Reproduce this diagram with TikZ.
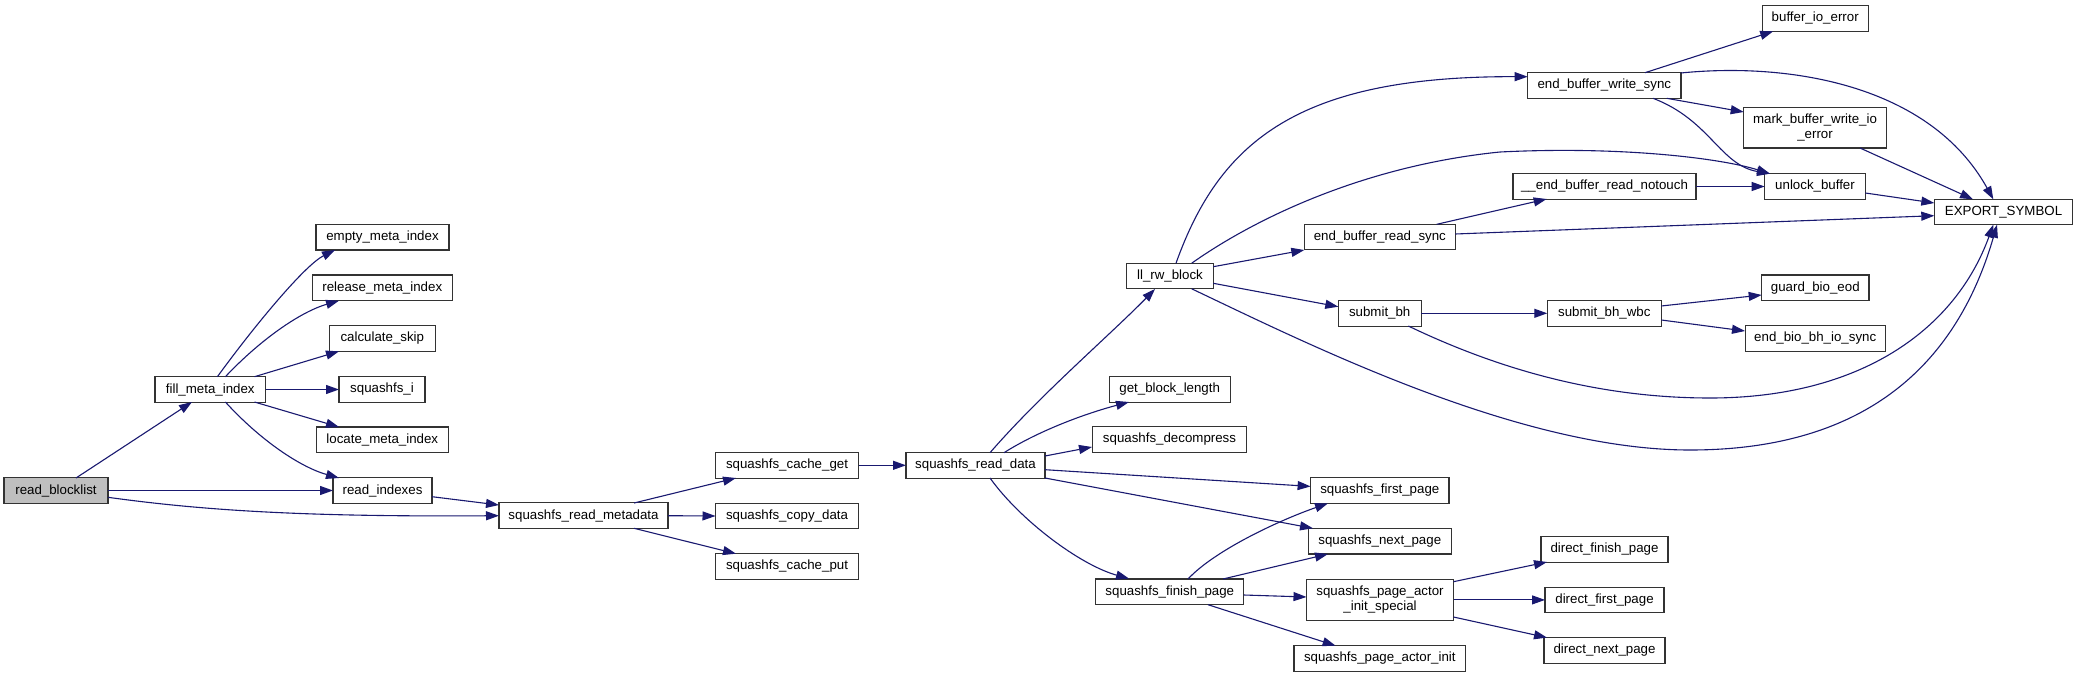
\documentclass[tikz,border=0pt]{standalone}
\usepackage{fontspec}
\setmainfont{Liberation Sans}
\usetikzlibrary{arrows.meta,calc}
\definecolor{edgecol}{HTML}{191970}
\definecolor{rootfill}{HTML}{BFBFBF}
\definecolor{boxline}{HTML}{333333}
\begin{document}
\begin{tikzpicture}[x=1pt,y=-1pt,
  fn/.style={draw=boxline, line width=1.1pt, fill=white, minimum height=25.6pt,
    inner sep=0pt, outer sep=0pt, font=\fontsize{13.3}{15.3}\selectfont, align=center},
  fntwo/.style={fn, minimum height=40.3pt},
  call/.style={draw=edgecol, line width=1.1pt, -{Triangle[length=13pt,width=9pt]}}]
\fill[white] (0,0) rectangle (2079,677);
\useasboundingbox (0,0) rectangle (2079,677);

% column 1-2
\node[fn, fill=rootfill, minimum width=104pt] (rb) at (56,490.5) {read\_blocklist};
\node[fn, minimum width=110.6pt] (fmi) at (210.3,389.5) {fill\_meta\_index};
% column 3
\node[fn, minimum width=133pt] (emi) at (382.5,237.2) {empty\_meta\_index};
\node[fn, minimum width=139.5pt] (rmi) at (382.3,287.8) {release\_meta\_index};
\node[fn, minimum width=105.5pt] (cs) at (382.3,338.5) {calculate\_skip};
\node[fn, minimum width=86pt] (si) at (382,389.5) {squashfs\_i};
\node[fn, minimum width=131.5pt] (lmi) at (382.3,439.8) {locate\_meta\_index};
\node[fn, minimum width=99pt] (ri) at (382.5,490.5) {read\_indexes};
% column 4-5
\node[fn, minimum width=169pt] (srm) at (583.5,515.7) {squashfs\_read\_metadata};
\node[fn, minimum width=143pt] (scg) at (787,465.3) {squashfs\_cache\_get};
\node[fn, minimum width=143pt] (scd) at (787,516) {squashfs\_copy\_data};
\node[fn, minimum width=143pt] (scp) at (787,566.5) {squashfs\_cache\_put};
% column 6
\node[fn, minimum width=139pt] (srd) at (975.5,465.3) {squashfs\_read\_data};
% column 7
\node[fn, minimum width=86.6pt] (llrw) at (1170,276) {ll\_rw\_block};
\node[fn, minimum width=120.7pt] (gbl) at (1169.7,389.3) {get\_block\_length};
\node[fn, minimum width=154pt] (sdc) at (1169.5,439.5) {squashfs\_decompress};
\node[fn, minimum width=148pt] (sfp) at (1169.8,591.8) {squashfs\_finish\_page};
% column 8
\node[fn, minimum width=151pt] (ebrs) at (1379.8,237.1) {end\_buffer\_read\_sync};
\node[fn, minimum width=82.7pt] (sbh) at (1379.7,313.3) {submit\_bh};
\node[fn, minimum width=138.3pt] (sfirst) at (1379.8,490.4) {squashfs\_first\_page};
\node[fn, minimum width=142.5pt] (snext) at (1379.8,541.2) {squashfs\_next\_page};
\node[fntwo, minimum width=147pt] (spais) at (1380,599.9) {squashfs\_page\_actor\\\_init\_special};
\node[fn, minimum width=171.7pt] (spai) at (1379.8,658.5) {squashfs\_page\_actor\_init};
% column 9
\node[fn, minimum width=153.3pt] (ebws) at (1604.3,85.5) {end\_buffer\_write\_sync};
\node[fn, minimum width=183pt] (ebrn) at (1604.5,186.5) {\_\_end\_buffer\_read\_notouch};
\node[fn, minimum width=114pt] (sbw) at (1604.3,313.3) {submit\_bh\_wbc};
\node[fn, minimum width=127pt] (dfin) at (1604.5,549.3) {direct\_finish\_page};
\node[fn, minimum width=119pt] (dfir) at (1604.5,599.9) {direct\_first\_page};
\node[fn, minimum width=121pt] (dnext) at (1604.5,650.3) {direct\_next\_page};
% column 10
\node[fn, minimum width=105.7pt] (bie) at (1815.2,18.5) {buffer\_io\_error};
\node[fntwo, minimum width=142.7pt] (mbw) at (1815,127.8) {mark\_buffer\_write\_io\\\_error};
\node[fn, minimum width=100.7pt] (ub) at (1815,186.5) {unlock\_buffer};
\node[fn, minimum width=107.3pt] (gbe) at (1815.3,287.8) {guard\_bio\_eod};
\node[fn, minimum width=140.3pt] (ebb) at (1815.2,338.5) {end\_bio\_bh\_io\_sync};
% column 11
\node[fn, minimum width=138.4pt] (es) at (2003.5,212) {EXPORT\_SYMBOL};

% edges
\draw[call] ($(rb)+(20,-12.5)$) -- ($(fmi)+(-18.3,12.5)$);
\draw[call] (rb.east) -- (ri.west);
\draw[call] ($(rb)+(52,6.8)$) .. controls (200,510) and (300,517) .. (srm.west);
\draw[call] ($(ri)+(49.5,6.2)$) -- ($(srm)+(-84.5,-10.7)$);

\draw[call] ($(fmi)+(7.1,-12.8)$) .. controls (255,325) and (305,265) .. ($(emi)+(-47.5,12.8)$);
\draw[call] ($(fmi)+(15.1,-12.8)$) .. controls (260,340) and (300,312) .. ($(rmi)+(-43.3,12.9)$);
\draw[call] ($(fmi)+(44.2,-12.8)$) -- ($(cs)+(-43.3,12.8)$);
\draw[call] (fmi.east) -- (si.west);
\draw[call] ($(fmi)+(44.2,12.5)$) -- ($(lmi)+(-43.3,-12.8)$);
\draw[call] ($(fmi)+(15.1,12.5)$) .. controls (260,440) and (300,467) .. ($(ri)+(-43.5,-12.5)$);

\draw[call] ($(srm)+(50.5,-12.7)$) -- ($(scg)+(-51,12.7)$);
\draw[call] (srm.east) -- (scd.west);
\draw[call] ($(srm)+(50.5,12.6)$) -- ($(scp)+(-51,-12.8)$);
\draw[call] (scg.east) -- (srd.west);

\draw[call] ($(srd)+(14.5,-12.6)$) .. controls (1040,395) and (1110,335) .. ($(llrw)+(-15,13)$);
\draw[call] ($(srd)+(28.5,-12.6)$) .. controls (1035,433) and (1080,415) .. ($(gbl)+(-40.7,12.7)$);
\draw[call] ($(srd)+(69.5,-9.3)$) -- ($(sdc)+(-77.5,7.5)$);
\draw[call] ($(srd)+(69.5,4.4)$) -- ($(sfirst)+(-69.2,-4)$);
\draw[call] ($(srd)+(69.5,12.7)$) -- ($(snext)+(-66.8,-12.9)$);
\draw[call] ($(srd)+(14.5,12.7)$) .. controls (1020,520) and (1080,565) .. ($(sfp)+(-40.8,-13.2)$);

\draw[call] ($(sfp)+(18.2,-12.8)$) .. controls (1215,550) and (1280,520) .. ($(sfirst)+(-51.8,12.9)$);
\draw[call] ($(sfp)+(53.2,-12.8)$) -- ($(snext)+(-51.8,12.8)$);
\draw[call] ($(sfp)+(74,3.2)$) -- ($(spais)+(-73.5,-2.9)$);
\draw[call] ($(sfp)+(38.2,12.9)$) -- ($(spai)+(-44.2,-12.8)$);

\draw[call] ($(spais)+(73.5,-18.2)$) -- ($(dfin)+(-57.5,12.7)$);
\draw[call] (spais.east) -- (dfir.west);
\draw[call] ($(spais)+(73.5,17.1)$) -- ($(dnext)+(-57.5,-12.7)$);

\draw[call] ($(llrw)+(6,-12.8)$) .. controls (1220,140) and (1300,76) .. ($(ebws)+(-76.6,-8.8)$);
\draw[call] ($(llrw)+(21.7,-12.8)$) .. controls (1260,215) and (1370,165) .. (1500,152)
   .. controls (1620,146) and (1720,158) .. ($(ub)+(-45,-12.8)$);
\draw[call] ($(llrw)+(43.3,-9.3)$) -- ($(ebrs)+(-75.5,12.9)$);
\draw[call] ($(llrw)+(43.3,7.3)$) -- ($(sbh)+(-41.4,-6.6)$);
\draw[call] ($(llrw)+(21.7,12.8)$) .. controls (1310,345) and (1520,450) .. (1690,450)
   .. controls (1860,450) and (1955,370) .. ($(es)+(-6.5,12.7)$);

\draw[call] ($(ebws)+(40.7,-12.8)$) -- ($(bie)+(-42,12.8)$);
\draw[call] ($(ebws)+(76.4,-12.5)$) .. controls (1790,62) and (1930,85) .. ($(es)+(-10.2,-12.7)$);
\draw[call] ($(ebws)+(62.4,12.8)$) -- ($(mbw)+(-71.3,-15.8)$);
\draw[call] ($(ebws)+(48.7,12.8)$) .. controls (1710,120) and (1720,165) .. ($(ub)+(-45,-12.8)$);
\draw[call] ($(mbw)+(45,20.2)$) -- ($(es)+(-30.5,-12.7)$);
\draw[call] ($(ub)+(50.3,6.5)$) -- ($(es)+(-69.2,-9)$);
\draw[call] (ebrn.east) -- (ub.west);
\draw[call] ($(ebrs)+(56.9,-12.8)$) -- ($(ebrn)+(-57.8,12.5)$);
\draw[call] ($(ebrs)+(75.5,-3.1)$) -- ($(es)+(-69.2,3.7)$);

\draw[call] (sbh.east) -- (sbw.west);
\draw[call] ($(sbh)+(28.6,12.7)$) .. controls (1500,370) and (1600,398) .. (1710,398)
   .. controls (1860,398) and (1955,330) .. ($(es)+(-10.2,12.7)$);
\draw[call] ($(sbw)+(57,-7.3)$) -- ($(gbe)+(-53.6,7.2)$);
\draw[call] ($(sbw)+(57,6.7)$) -- ($(ebb)+(-70.2,-7.5)$);
\end{tikzpicture}
\end{document}
